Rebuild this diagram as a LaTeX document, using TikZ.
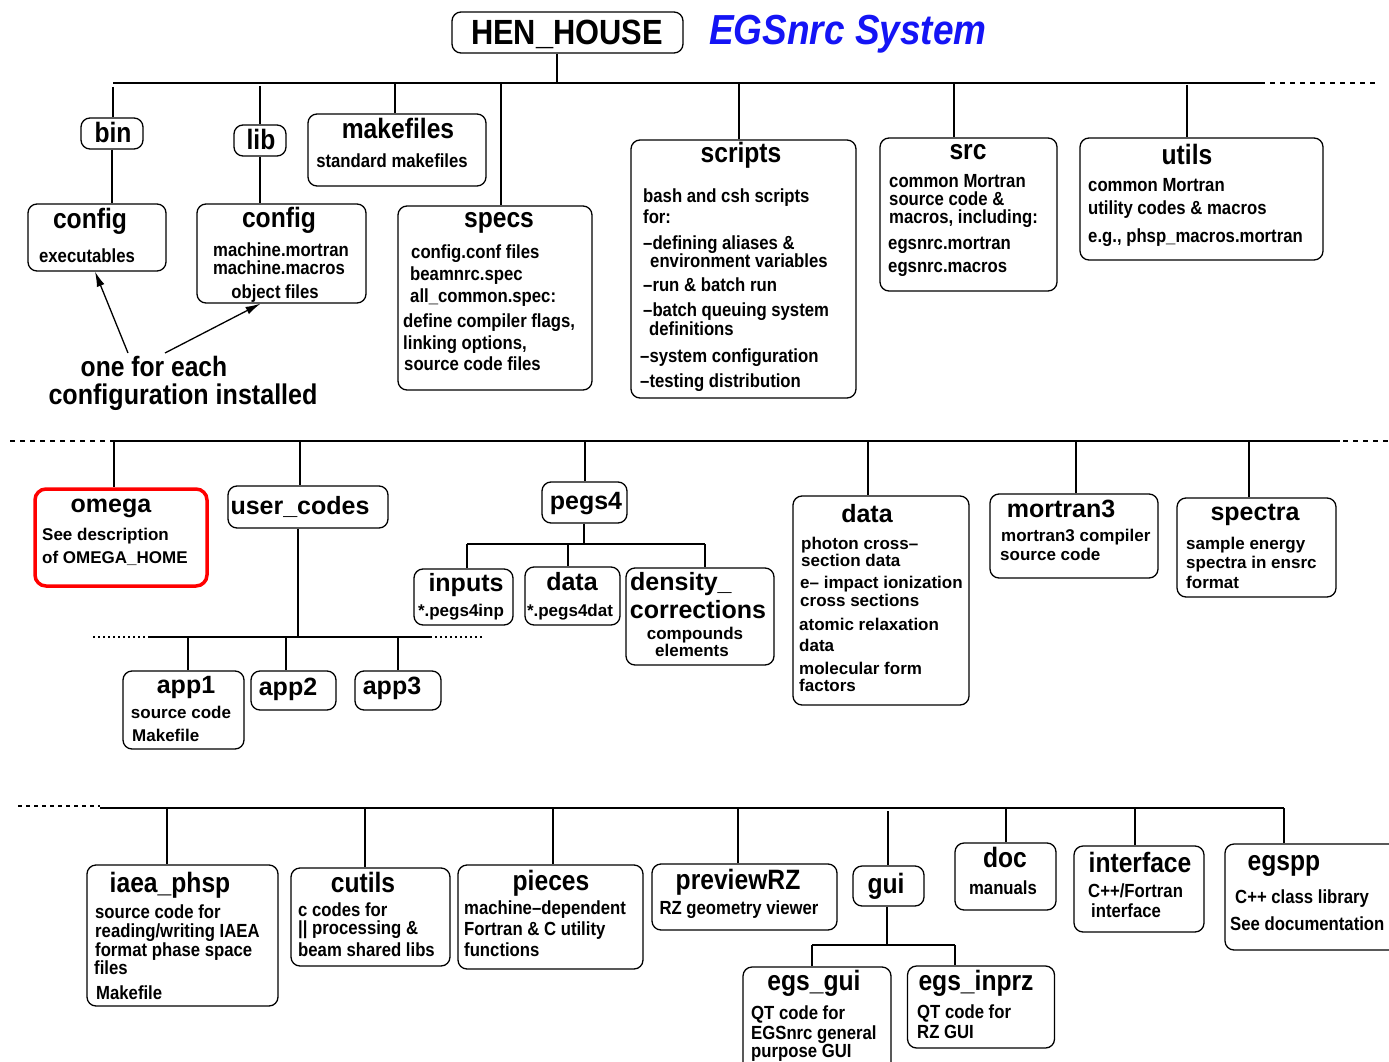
\documentclass[tikz,border=0pt]{standalone}
\usepackage{fontspec}
\setmainfont{Liberation Sans}
\newfontfamily\cnd{Liberation Sans}[FakeStretch=0.88]
\usetikzlibrary{arrows.meta}
\definecolor{egsblue}{RGB}{20,20,245}
\newcommand\fsz[1]{\fontsize{#1}{#1}\selectfont}
\begin{document}
\begin{tikzpicture}[x=1pt,y=-1pt,
 box/.style={draw, rounded corners=9pt, line width=1.3pt, inner sep=0pt},
 ln/.style={line width=1.3pt},
 dsh/.style={line width=1.2pt, dash pattern=on 5pt off 5pt},
 dot/.style={line width=1.2pt, dash pattern=on 1.5pt off 3.5pt},
 ct/.style={inner sep=0pt, font=\cnd\bfseries\fsz{28}, text height=16.8pt, text depth=0pt},
 cb/.style={inner sep=0pt, font=\cnd\bfseries\fsz{19}, text height=11.4pt, text depth=0pt},
 rt/.style={inner sep=0pt, font=\bfseries\fsz{25}, text height=15pt, text depth=0pt},
 rb/.style={inner sep=0pt, font=\bfseries\fsz{17}, text height=10.2pt, text depth=0pt},
 L/.style={anchor=west},
 arr/.style={line width=1.3pt, -{Latex[length=15pt,width=8pt]}}
]
\clip (0,0) rectangle (1389,1062);
\fill[white] (0,0) rectangle (1389,1062);

% ---------------- title
\node[box, minimum width=231pt, minimum height=41pt] (hen) at (567.5,32.5) {};
\node[inner sep=0pt, font=\cnd\bfseries\fsz{35}, text height=21pt, text depth=0pt] (tHen) at (567,34) {HEN\_HOUSE};
\node[inner sep=0pt, font=\cnd\bfseries\itshape\fsz{42}, text height=25pt, text depth=0pt, text=egsblue] (tEgs) at (848,32) {EGSnrc System};

% ---------------- top bus
\coordinate (tbL) at (113,83);
\coordinate (tbR) at (1265,83);
\coordinate (tbR2) at (1270,83);
\coordinate (tbD) at (1375,83);
\coordinate (hJ) at (557,83);
\draw[ln] (tbL) -- (tbR);
\draw[dsh] (tbR2) -- (tbD);
\draw[ln] (hJ |- hen.south) -- (hJ);

% ---------------- top boxes
\node[box, minimum width=62pt, minimum height=31pt] (bin) at (112,133.5) {};
\node[box, minimum width=138pt, minimum height=67pt] (cfg1) at (97,237.5) {};
\node[box, minimum width=52pt, minimum height=31pt] (lib) at (260,140.5) {};
\node[box, minimum width=169pt, minimum height=99pt] (cfg2) at (281.5,253.5) {};
\node[box, minimum width=178pt, minimum height=72pt] (mkf) at (397,150) {};
\node[box, minimum width=194pt, minimum height=184pt] (specs) at (495,298) {};
\node[box, minimum width=225pt, minimum height=258pt] (scripts) at (743.5,269) {};
\node[box, minimum width=177pt, minimum height=153pt] (src) at (968.5,214.5) {};
\node[box, minimum width=243pt, minimum height=122pt] (utils) at (1201.5,199) {};

\coordinate (jBin) at (113,87);
\coordinate (jLib) at (260,86);
\coordinate (jMkf) at (395,83);
\coordinate (jSpecs) at (501,83);
\coordinate (jScripts) at (739,83);
\coordinate (jSrc) at (954,83);
\coordinate (jUtils) at (1187,85);
\draw[ln] (jBin) -- (jBin |- bin.north);
\draw[ln] (bin.south) -- (bin.south |- cfg1.north);
\draw[ln] (jLib) -- (jLib |- lib.north);
\draw[ln] (lib.south) -- (lib.south |- cfg2.north);
\draw[ln] (jMkf) -- (jMkf |- mkf.north);
\draw[ln] (jSpecs) -- (jSpecs |- specs.north);
\draw[ln] (jScripts) -- (jScripts |- scripts.north);
\draw[ln] (jSrc) -- (jSrc |- src.north);
\draw[ln] (jUtils) -- (jUtils |- utils.north);

\node[ct] (tBin) at (113,134) {bin};
\node[ct] (tLib) at (261,141) {lib};
\node[ct] (tCfg1) at (90,220) {config};
\node[cb] (tExe) at (87,257) {executables};
\node[ct] (tCfg2) at (279,219) {config};
\node[cb] (tMm) at (281,251) {machine.mortran};
\node[cb] (tMma) at (279,269) {machine.macros};
\node[cb] (tObj) at (275,293) {object files};
\node[ct] (tMkf) at (398,130) {makefiles};
\node[cb] (tStd) at (392,162) {standard makefiles};
\node[ct] (tSpecs) at (499,219) {specs};
\node[cb,L] (s1) at (411,253) {config.conf files};
\node[cb,L] (s2) at (410,275) {beamnrc.spec};
\node[cb,L] (s3) at (410,297) {all\_common.spec:};
\node[cb,L] (s4) at (403,322) {define compiler flags,};
\node[cb,L] (s5) at (403,344) {linking options,};
\node[cb,L] (s6) at (404,365) {source code files};
\node[ct] (tScripts) at (741,154) {scripts};
\node[cb,L] (c1) at (643,197) {bash and csh scripts};
\node[cb,L] (c2) at (643,218) {for:};
\node[cb,L] (c3) at (643,244) {–defining aliases \&};
\node[cb,L] (c4) at (650,262) {environment variables};
\node[cb,L] (c5) at (643,286) {–run \& batch run};
\node[cb,L] (c6) at (643,311) {–batch queuing system};
\node[cb,L] (c7) at (649,330) {definitions};
\node[cb,L] (c8) at (640,357) {–system configuration};
\node[cb,L] (c9) at (640,382) {–testing distribution};
\node[ct] (tSrc) at (968,151) {src};
\node[cb,L] (r1) at (889,182) {common Mortran};
\node[cb,L] (r2) at (889,200) {source code \&};
\node[cb,L] (r3) at (889,218) {macros, including:};
\node[cb,L] (r4) at (888,244) {egsnrc.mortran};
\node[cb,L] (r5) at (888,267) {egsnrc.macros};
\node[ct] (tUtils) at (1187,156) {utils};
\node[cb,L] (u1) at (1088,186) {common Mortran};
\node[cb,L] (u2) at (1088,209) {utility codes \& macros};
\node[cb,L] (u3) at (1088,237) {e.g., phsp\_macros.mortran};

% annotation
\node[inner sep=0pt, font=\cnd\bfseries\fsz{28}, text height=16.8pt, text depth=0pt] (n1) at (154,368) {one for each};
\node[inner sep=0pt, font=\cnd\bfseries\fsz{28.5}, text height=17.1pt, text depth=0pt] (n2) at (183,396) {configuration installed};
\coordinate (a1) at (128,353);
\coordinate (a2) at (165,353);
\draw[arr] (a1) -- ([xshift=-2pt]cfg1.south);
\draw[arr] (a2) -- ([xshift=-21pt]cfg2.south);

% ---------------- middle bus
\coordinate (mbL) at (113,441);
\coordinate (mbR) at (1340,441);
\coordinate (mbLL) at (10,441);
\coordinate (mbR2) at (1343,441);
\coordinate (mbRR) at (1389,441);
\draw[ln] (mbL) -- (mbR);
\draw[dsh] (mbLL) -- (mbL);
\draw[dsh] (mbR2) -- (mbRR);

\node[draw=red, line width=3.5pt, rounded corners=11pt, inner sep=0pt, minimum width=172pt, minimum height=97pt] (omega) at (121,537.5) {};
\node[box, minimum width=160pt, minimum height=42pt] (uc) at (308,507) {};
\node[box, minimum width=121pt, minimum height=78pt] (app1) at (183.5,710) {};
\node[box, minimum width=85pt, minimum height=39pt] (app2) at (293.5,690.5) {};
\node[box, minimum width=86pt, minimum height=39pt] (app3) at (398,690.5) {};
\node[box, minimum width=85pt, minimum height=41pt] (pegs) at (584.5,502.5) {};
\node[box, minimum width=99pt, minimum height=56pt] (inputs) at (463.5,597) {};
\node[box, minimum width=95pt, minimum height=58pt] (pdata) at (572.5,596) {};
\node[box, minimum width=148pt, minimum height=97pt] (dens) at (700,616.5) {};
\node[box, minimum width=176pt, minimum height=209pt] (data) at (881,600.5) {};
\node[box, minimum width=168pt, minimum height=84pt] (mort) at (1074,536) {};
\node[box, minimum width=159pt, minimum height=99pt] (spec) at (1256.5,547.5) {};

\coordinate (jOmega) at (114,441);
\coordinate (jUc) at (300,441);
\coordinate (jPegs) at (585,441);
\coordinate (jData) at (868,441);
\coordinate (jMort) at (1076,441);
\coordinate (jSpec) at (1249,441);
\draw[ln] (jOmega) -- (jOmega |- omega.north);
\draw[ln] (jUc) -- (jUc |- uc.north);
\draw[ln] (jPegs) -- (jPegs |- pegs.north);
\draw[ln] (jData) -- (jData |- data.north);
\draw[ln] (jMort) -- (jMort |- mort.north);
\draw[ln] (jSpec) -- (jSpec |- spec.north);

% app bus
\coordinate (abJ) at (298,637);
\coordinate (abL) at (148,637);
\coordinate (abR) at (430,637);
\coordinate (abLL) at (93,637);
\coordinate (abRR) at (485,637);
\draw[ln] (abJ |- uc.south) -- (abJ);
\draw[ln] (abL) -- (abR);
\draw[dot] (abLL) -- (abL);
\draw[dot] (abR) -- (abRR);
\coordinate (jApp1) at (188,637);
\coordinate (jApp2) at (286,637);
\coordinate (jApp3) at (398,637);
\draw[ln] (jApp1) -- (jApp1 |- app1.north);
\draw[ln] (jApp2) -- (jApp2 |- app2.north);
\draw[ln] (jApp3) -- (jApp3 |- app3.north);

% pegs sub bus
\coordinate (pbJ) at (584,544);
\coordinate (pbL) at (467,544);
\coordinate (pbM) at (568,544);
\coordinate (pbR) at (705,544);
\draw[ln] (pbJ |- pegs.south) -- (pbJ);
\draw[ln] (pbL) -- (pbR);
\draw[ln] (pbL) -- (pbL |- inputs.north);
\draw[ln] (pbM) -- (pbM |- pdata.north);
\draw[ln] (pbR) -- (pbR |- dens.north);

\node[rt] (tOmega) at (111,505) {omega};
\node[rb,L] (o1) at (42,535) {See description};
\node[rb,L] (o2) at (42,558) {of OMEGA\_HOME};
\node[rt] (tUc) at (300,507) {user\_codes};
\node[rt] (tApp1) at (186,686) {app1};
\node[rb] (ap1) at (181,713) {source code};
\node[rb,L] (ap2) at (132,736) {Makefile};
\node[rt] (tApp2) at (288,688) {app2};
\node[rt] (tApp3) at (392,687) {app3};
\node[rt] (tPegs) at (586,502) {pegs4};
\node[rt] (tInputs) at (466,584) {inputs};
\node[rb] (i1) at (461,611) {*.pegs4inp};
\node[rt] (tPdata) at (572,583) {data};
\node[rb] (pd1) at (570,611) {*.pegs4dat};
\node[rt,L] (tDens) at (630,583) {density\_};
\node[rt] (tCorr) at (698,611) {corrections};
\node[rb] (d1) at (695,634) {compounds};
\node[rb] (d2) at (692,651) {elements};
\node[rt] (tData) at (867,515) {data};
\node[rb,L] (e1) at (801,544) {photon cross–};
\node[rb,L] (e2) at (801,561) {section data};
\node[rb,L] (e3) at (800,583) {e– impact ionization};
\node[rb,L] (e4) at (800,601) {cross sections};
\node[rb,L] (e5) at (799,625) {atomic relaxation};
\node[rb,L] (e6) at (799,646) {data};
\node[rb,L] (e7) at (799,669) {molecular form};
\node[rb,L] (e8) at (799,686) {factors};
\node[rt] (tMort) at (1061,510) {mortran3};
\node[rb,L] (m1) at (1001,536) {mortran3 compiler};
\node[rb,L] (m2) at (1000,555) {source code};
\node[rt] (tSpec) at (1255,513) {spectra};
\node[rb,L] (p1) at (1186,544) {sample energy};
\node[rb,L] (p2) at (1186,563) {spectra in ensrc};
\node[rb,L] (p3) at (1186,583) {format};

% ---------------- bottom bus
\coordinate (bbL) at (100,808);
\coordinate (bbR) at (1284,808);
\coordinate (bbLL) at (18,806);
\coordinate (bbL2) at (100,806);
\draw[ln] (bbL) -- (bbR);
\draw[line width=1.2pt, dash pattern=on 4pt off 4pt] (bbLL) -- (bbL2);

\node[box, minimum width=191pt, minimum height=141pt] (iaea) at (182.5,935.5) {};
\node[box, minimum width=159pt, minimum height=98pt] (cutils) at (370.5,917) {};
\node[box, minimum width=185pt, minimum height=104pt] (pieces) at (550.5,917) {};
\node[box, minimum width=185pt, minimum height=66pt] (prev) at (744.5,897) {};
\node[box, minimum width=71pt, minimum height=40pt] (gui) at (888.5,886) {};
\node[box, minimum width=148pt, minimum height=108pt] (egsgui) at (817,1021) {};
\node[box, minimum width=147pt, minimum height=82pt] (inprz) at (981,1007) {};
\node[box, minimum width=101pt, minimum height=67pt] (doc) at (1005.5,876.5) {};
\node[box, minimum width=130pt, minimum height=86pt] (intf) at (1139,889) {};
\node[box, minimum width=175pt, minimum height=106pt] (egspp) at (1312.5,897) {};

\coordinate (jIaea) at (167,808);
\coordinate (jCutils) at (365,808);
\coordinate (jPieces) at (553,808);
\coordinate (jPrev) at (738,808);
\coordinate (jGui) at (888,811);
\coordinate (jDoc) at (1006,808);
\coordinate (jIntf) at (1135,808);
\coordinate (jEgspp) at (1284,808);
\draw[ln] (jIaea) -- (jIaea |- iaea.north);
\draw[ln] (jCutils) -- (jCutils |- cutils.north);
\draw[ln] (jPieces) -- (jPieces |- pieces.north);
\draw[ln] (jPrev) -- (jPrev |- prev.north);
\draw[ln] (jGui) -- (jGui |- gui.north);
\draw[ln] (jDoc) -- (jDoc |- doc.north);
\draw[ln] (jIntf) -- (jIntf |- intf.north);
\draw[ln] (jEgspp) -- (jEgspp |- egspp.north);

\coordinate (gbJ) at (887,945);
\coordinate (gbL) at (812,945);
\coordinate (gbR) at (955,945);
\draw[ln] (gbJ |- gui.south) -- (gbJ);
\draw[ln] (gbL) -- (gbR);
\draw[ln] (gbL) -- (gbL |- egsgui.north);
\draw[ln] (gbR) -- (gbR |- inprz.north);

\node[ct] (tIaea) at (170,884) {iaea\_phsp};
\node[cb,L] (ia1) at (95,913) {source code for};
\node[cb,L] (ia2) at (95,932) {reading/writing IAEA};
\node[cb,L] (ia3) at (95,951) {format phase space};
\node[cb,L] (ia4) at (94,969) {files};
\node[cb,L] (ia5) at (96,994) {Makefile};
\node[ct] (tCutils) at (363,884) {cutils};
\node[cb,L] (cu1) at (298,911) {c codes for};
\node[cb,L] (cu2) at (298,929) {|| processing \&};
\node[cb,L] (cu3) at (298,951) {beam shared libs};
\node[ct] (tPieces) at (551,882) {pieces};
\node[cb,L] (pi1) at (464,909) {machine–dependent};
\node[cb,L] (pi2) at (464,930) {Fortran \& C utility};
\node[cb,L] (pi3) at (464,951) {functions};
\node[ct] (tPrev) at (738,881) {previewRZ};
\node[cb] (pr1) at (739,909) {RZ geometry viewer};
\node[ct] (tGui) at (886,885) {gui};
\node[ct] (tEgsgui) at (814,982) {egs\_gui};
\node[cb,L] (eg1) at (751,1014) {QT code for};
\node[cb,L] (eg2) at (751,1034) {EGSnrc general};
\node[cb,L] (eg3) at (751,1052) {purpose GUI};
\node[ct] (tInprz) at (976,982) {egs\_inprz};
\node[cb,L] (ip1) at (917,1013) {QT code for};
\node[cb,L] (ip2) at (917,1033) {RZ GUI};
\node[ct] (tDoc) at (1005,859) {doc};
\node[cb] (dc1) at (1003,889) {manuals};
\node[ct] (tIntf) at (1140,864) {interface};
\node[cb,L] (if1) at (1088,892) {C++/Fortran};
\node[cb,L] (if2) at (1091,912) {interface};
\node[ct] (tEgspp) at (1284,862) {egspp};
\node[cb,L] (ep1) at (1235,898) {C++ class library};
\node[cb,L] (ep2) at (1230,925) {See documentation};
\end{tikzpicture}
\end{document}
